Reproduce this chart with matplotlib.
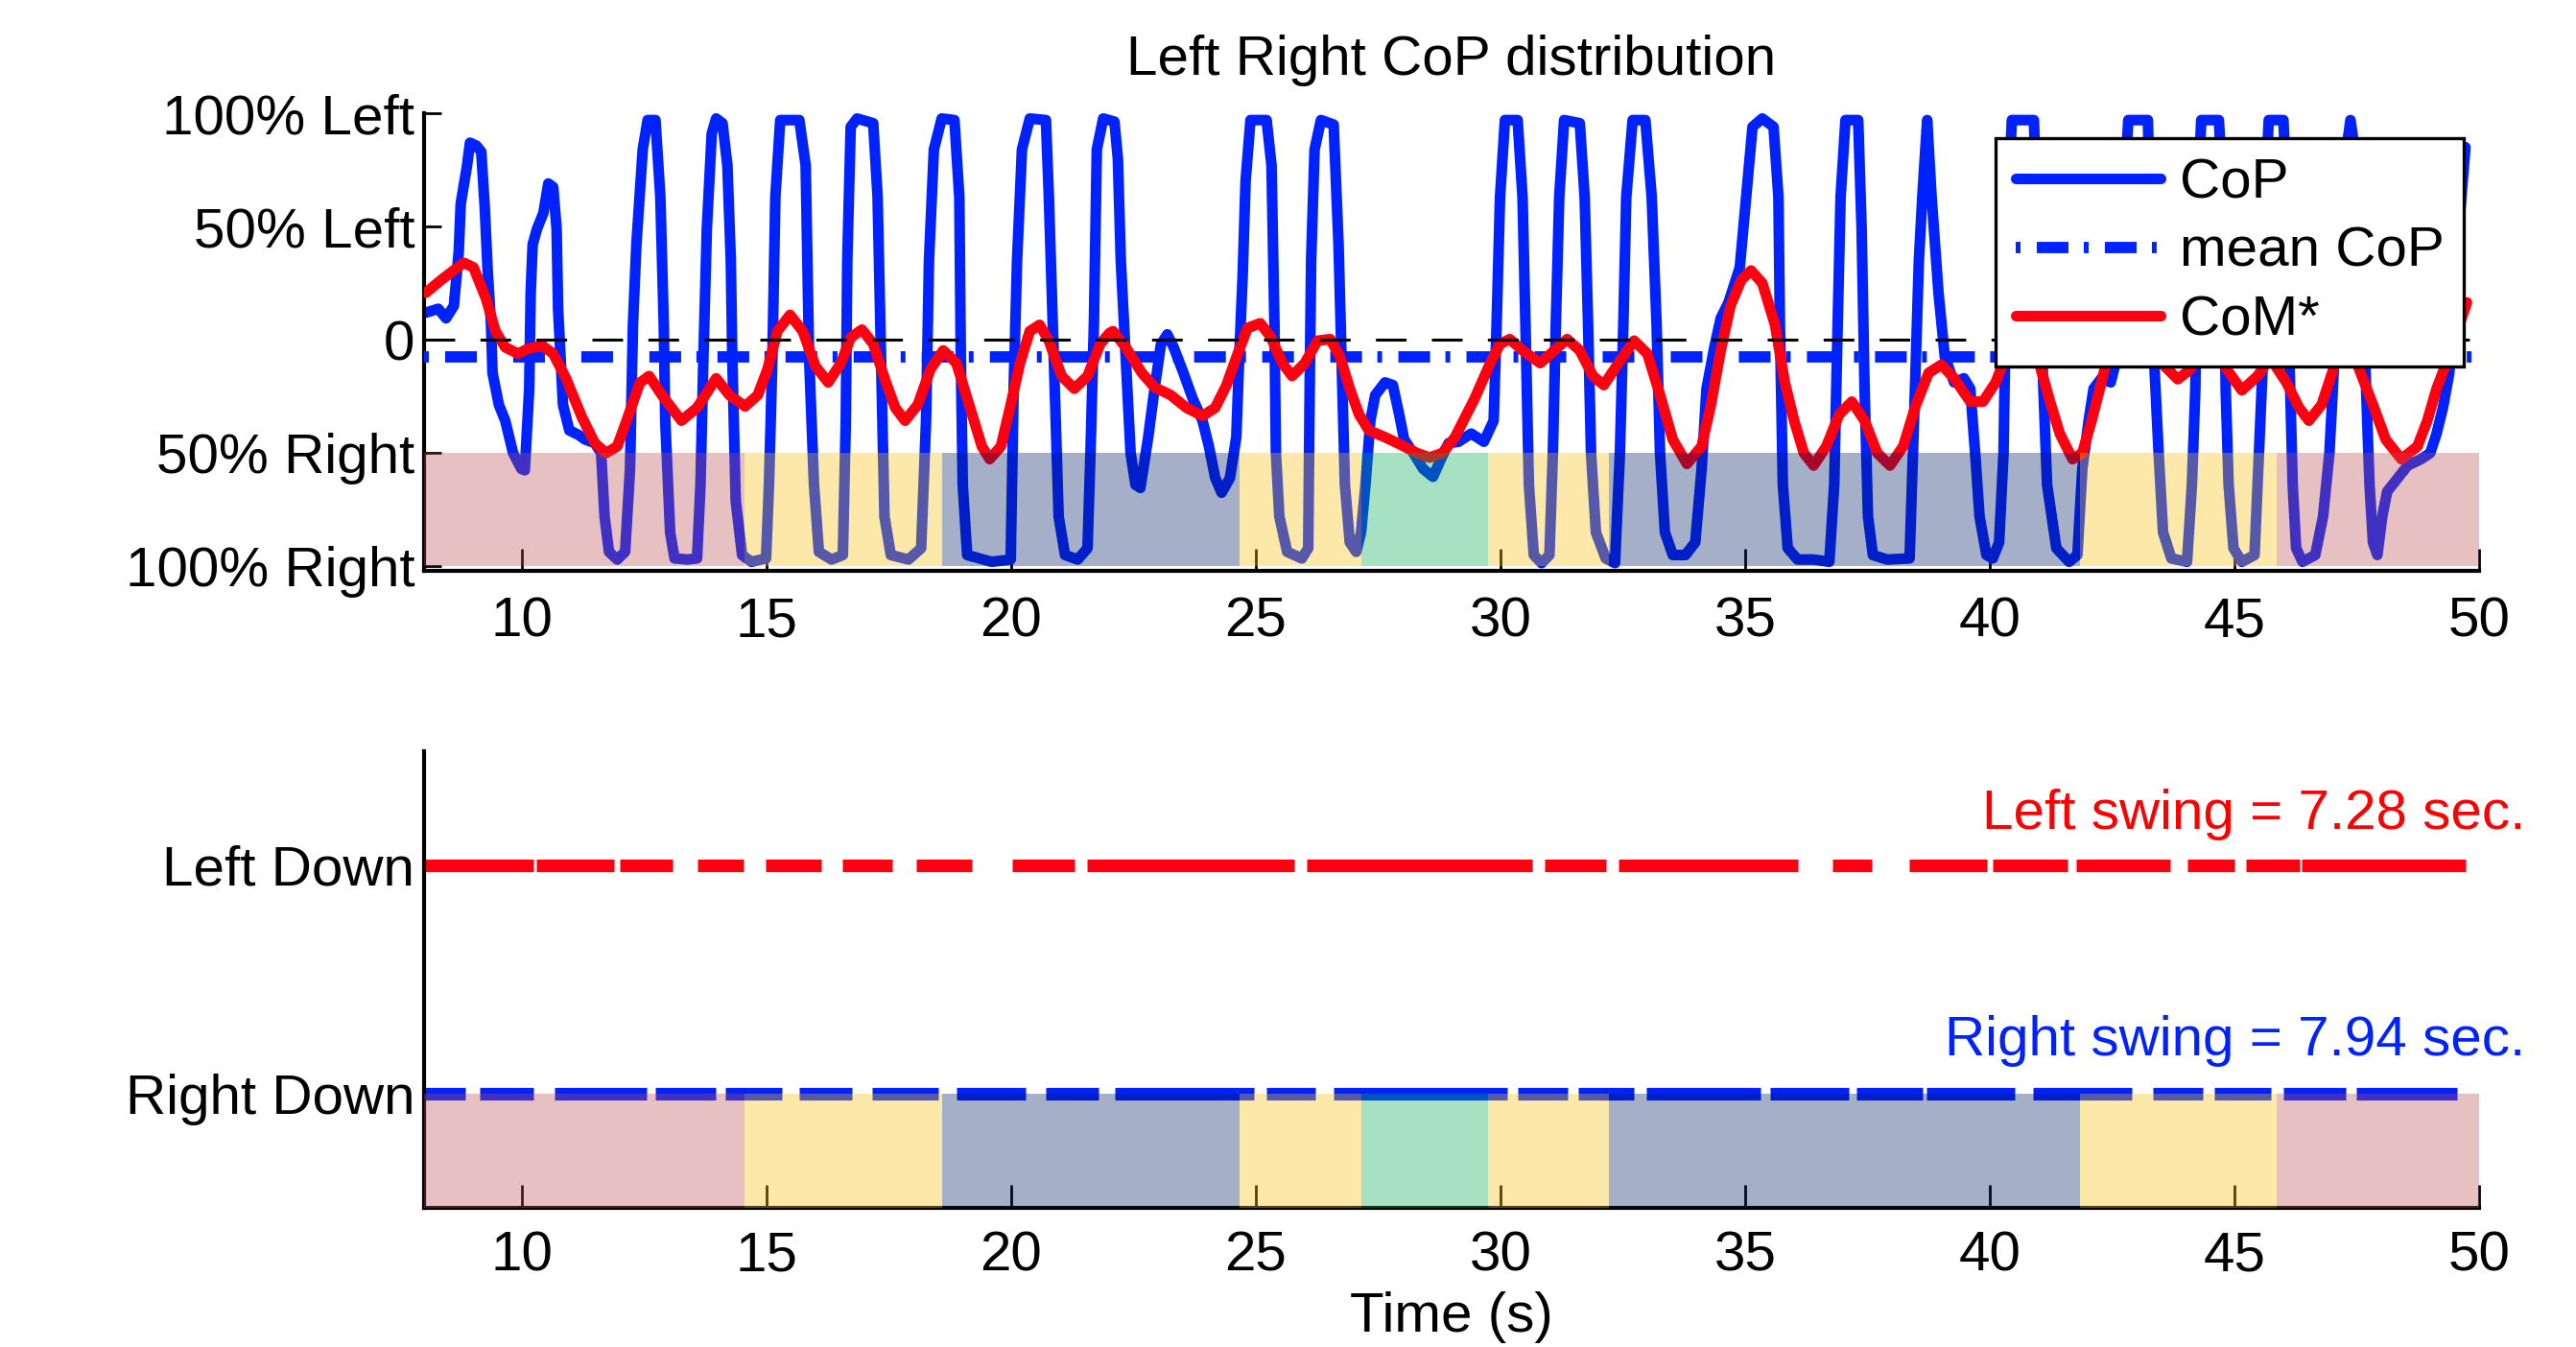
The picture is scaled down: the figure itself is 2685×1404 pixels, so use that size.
import matplotlib
matplotlib.use('Agg')
import matplotlib.pyplot as plt

plt.rcParams['font.family'] = ['Liberation Sans', 'DejaVu Sans']
plt.rcParams['lines.scale_dashes'] = False

# ---------------- data ----------------
cop_t = [8.04, 8.29, 8.45, 8.61, 8.71, 8.75, 8.88, 8.94, 9.07, 9.17, 9.24, 9.30, 9.37, 9.40,
         9.53, 9.66, 9.82, 9.99, 10.06, 10.15, 10.18, 10.22, 10.31, 10.44, 10.54, 10.64, 10.71,
         10.74, 10.84, 10.97, 11.16, 11.29, 11.49, 11.62, 11.69, 11.78, 11.95, 12.11, 12.21,
         12.27, 12.34, 12.47, 12.57, 12.73, 12.83, 12.90, 12.93, 13.03, 13.12, 13.39, 13.58,
         13.65, 13.71, 13.78, 13.88, 13.97, 14.10, 14.20, 14.27, 14.30, 14.37, 14.50, 14.69,
         14.99, 15.05, 15.12, 15.18, 15.28, 15.67, 15.80, 15.87, 15.97, 16.07, 16.33, 16.56,
         16.62, 16.65, 16.72, 16.85, 17.18, 17.27, 17.34, 17.41, 17.54, 17.90, 18.16, 18.26,
         18.32, 18.42, 18.58, 18.84, 18.94, 18.97, 19.01, 19.10, 19.60, 19.99, 20.05, 20.12,
         20.22, 20.38, 20.71, 20.77, 20.87, 20.97, 21.10, 21.36, 21.56, 21.62, 21.69, 21.75,
         21.88, 22.11, 22.18, 22.24, 22.34, 22.44, 22.54, 22.64, 22.80, 22.93, 23.06, 23.19,
         23.32, 23.52, 23.71, 23.91, 24.04, 24.17, 24.30, 24.47, 24.60, 24.66, 24.73, 24.79,
         24.89, 25.22, 25.32, 25.38, 25.41, 25.48, 25.64, 25.94, 26.07, 26.10, 26.13, 26.20,
         26.33, 26.59, 26.69, 26.75, 26.82, 26.92, 27.05, 27.15, 27.24, 27.34, 27.44, 27.64,
         27.80, 27.93, 28.03, 28.22, 28.42, 28.62, 28.78, 28.94, 29.14, 29.40, 29.66, 29.86,
         29.92, 29.99, 30.09, 30.35, 30.45, 30.51, 30.58, 30.68, 30.84, 31.00, 31.07, 31.13,
         31.20, 31.30, 31.62, 31.72, 31.79, 31.85, 31.95, 32.15, 32.34, 32.44, 32.51, 32.57,
         32.70, 32.96, 33.09, 33.19, 33.26, 33.36, 33.52, 33.78, 33.98, 34.11, 34.21, 34.37,
         34.50, 34.66, 34.89, 35.02, 35.15, 35.35, 35.58, 35.68, 35.71, 35.77, 35.87, 36.07,
         36.40, 36.72, 36.82, 36.89, 36.95, 37.05, 37.31, 37.38, 37.44, 37.51, 37.61, 37.90,
         38.36, 38.45, 38.55, 38.62, 38.72, 38.81, 38.95, 39.08, 39.27, 39.47, 39.60, 39.70,
         39.79, 39.93, 40.06, 40.19, 40.28, 40.32, 40.38, 40.45, 40.90, 41.07, 41.17, 41.36,
         41.62, 41.79, 41.89, 42.02, 42.12, 42.28, 42.47, 42.57, 42.74, 42.83, 43.23, 43.36,
         43.45, 43.54, 43.71, 44.03, 44.13, 44.20, 44.25, 44.32, 44.68, 44.78, 44.82, 44.88,
         44.98, 45.15, 45.41, 45.50, 45.57, 45.62, 45.70, 46.00, 46.08, 46.13, 46.19, 46.26,
         46.39, 46.65, 46.81, 46.94, 47.01, 47.20, 47.37, 47.55, 47.69, 47.76, 47.83, 47.92,
         48.02, 48.12, 48.28, 48.41, 48.54, 48.81, 49.00, 49.13, 49.26, 49.39, 49.55, 49.72]
cop_v = [12, 13.7, 9.5, 15, 39, 60, 77, 87, 85.7, 83, 59, 31, 6.6, -14.6,
         -28.7, -35.7, -50, -57, -57.6, -21.6, 20.8, 42, 49, 56, 69, 67.4, 49,
         13.7, -28.7, -40, -42, -44, -45.6, -50, -78, -93.6, -97, -93.6, -57,
         6.6, 42, 84, 97, 97, 63, 6.6, -35.7, -85, -96.5, -97, -96.5,
         -64, -7.5, 49, 91, 97.7, 95.6, 77, 35, -7.5, -71, -95, -98,
         -96.5, -64, -7.5, 63, 97, 97, 77, -7.5, -64, -93.6, -97, -95,
         -35.7, 35, 94, 97.7, 95.6, 63, -7.5, -78, -95, -97, -92, -35.7,
         35, 84, 97.7, 97, 63, -7.5, -64, -95, -98, -97, -21.6, 35,
         84, 97.7, 97, 63, -7.5, -78, -95, -97, -92, -50, 6.6, 84,
         97.7, 96.3, 80, 35, -7.5, -50, -64, -65.4, -43, -21.6, -2, 2.4,
         -3.3, -14.6, -26, -35.7, -47, -61, -67.5, -61, -43, -7.5, 28, 70,
         97, 97, 77, 6.6, -50, -78, -93.6, -96.5, -92, -21.6, 35, 84,
         97, 95, 42, -7.5, -64, -89.4, -93.6, -85, -64, -35.7, -24.4, -18.8,
         -20, -33, -44, -50, -57, -60.5, -52.7, -45.6, -45, -41.4, -45, -35.7,
         6.6, 63, 97, 97, 63, 6.6, -64, -95, -98.6, -95, -50, 6.6,
         63, 97, 95.6, 63, 6.6, -50, -85, -96.5, -98.6, -50, 6.6, 63,
         97, 97, 63, 6.6, -50, -85, -95, -95, -89.4, -57, -21.6, -3.3,
         9.5, 16.5, 32, 63, 94, 97.7, 94, 63, 6.6, -64, -92, -97,
         -97, -98, -64, 6.6, 63, 97, 97, 49, -21.6, -78, -95, -97,
         -96.5, -35.7, 35, 63, 97, 63, 21, -7.5, -18.8, -17, -21.6, -50,
         -78, -95, -96.5, -89.4, -50, 6.6, 63, 97, 97, -7.5, -64, -92,
         -98, -95, -57, -35.7, -21.6, -17, -18.8, -10.3, 63, 97, 97, -10,
         -50, -85, -96.5, -98, -64, -21.6, 60, 97, 97, 60, -21.6, -64,
         -92, -98, -95, -50, -14.6, 60, 97, 97, 60, -14.6, -64, -92,
         -98, -95, -78, -50, -21.6, 70, 97, 70, -21.6, -64, -89.4, -95,
         -78, -67, -62.6, -59, -55.5, -52.7, -50, -41.4, -30, -14.6, 40, 85]

com_t = [8.04, 8.35, 8.81, 9.01, 9.27, 9.46, 9.66, 9.92, 10.12, 10.41, 10.64, 10.90, 11.23,
         11.49, 11.72, 11.95, 12.14, 12.41, 12.60, 12.86, 13.26, 13.58, 13.97, 14.24, 14.56,
         14.82, 15.02, 15.22, 15.48, 15.74, 16.00, 16.26, 16.52, 16.72, 16.95, 17.18, 17.44,
         17.63, 17.83, 18.09, 18.35, 18.61, 18.88, 19.14, 19.40, 19.56, 19.79, 19.99, 20.18,
         20.38, 20.58, 20.77, 21.03, 21.29, 21.56, 21.82, 22.01, 22.08, 22.34, 22.67, 22.93,
         23.26, 23.58, 23.91, 24.17, 24.40, 24.63, 24.83, 25.09, 25.31, 25.54, 25.74, 26.00,
         26.26, 26.52, 26.72, 26.92, 27.11, 27.31, 27.64, 27.96, 28.29, 28.55, 28.81, 29.07,
         29.14, 29.47, 29.79, 29.99, 30.19, 30.45, 30.81, 31.10, 31.36, 31.62, 31.89, 32.11,
         32.41, 32.73, 33.00, 33.26, 33.52, 33.81, 34.11, 34.30, 34.50, 34.70, 34.92, 35.12,
         35.35, 35.61, 35.81, 36.00, 36.20, 36.40, 36.66, 36.92, 37.18, 37.44, 37.70, 37.96,
         38.23, 38.49, 38.75, 39.01, 39.27, 39.60, 39.86, 40.12, 40.32, 40.60, 40.85, 41.00,
         41.23, 41.43, 41.69, 41.89, 42.08, 42.28, 42.41, 42.65, 42.95, 43.25, 43.51, 43.84,
         44.10, 44.30, 44.55, 44.75, 45.15, 45.47, 45.73, 46.06, 46.32, 46.52, 46.78, 47.04,
         47.25, 47.50, 47.83, 48.09, 48.41, 48.74, 48.94, 49.13, 49.33, 49.75]
com_v = [20.8, 26.4, 34, 32, 18, 3.8, -3.3, -6.1, -4, -2.5, -6.1, -17, -34.3,
         -45.6, -50, -47, -35.7, -19, -16, -24.4, -35.7, -30, -17, -24.4, -29.4,
         -24.4, -13, 3.8, 11, 3.8, -11.7, -18.8, -10.3, 1, 4.5, -1.8, -18.8,
         -30, -35.7, -28.7, -13, -4.7, -10.3, -28.7, -47, -52.7, -47, -28.7, -10.3,
         3.8, 6.6, -0.4, -16, -21.6, -16, -1.8, 3, 3.8, -3.3, -14.6, -21,
         -24.4, -30, -33.6, -30, -20, -6.1, 5.2, 7.3, 1, -10.3, -16, -10.3,
         -0.4, 0.3, -7.5, -21.6, -33, -40, -43, -46.3, -50, -52, -50, -43,
         -40, -26, -10.3, -1.8, 0.3, -4.7, -10.3, -4.7, 0.3, -4.7, -16, -20,
         -10.3, -0.4, -6.1, -24.4, -44, -54.8, -47, -28.7, -4.7, 15, 26.4, 30.6,
         25, 6.6, -18.8, -35.7, -50, -55.5, -47, -33, -27.3, -35.7, -50, -55.5,
         -47, -28.7, -14.6, -11, -17, -27.3, -27.3, -18.8, -7.5, 3, -2, -9.6,
         -27.3, -41.4, -52.7, -50, -35.7, -18.8, -7.5, 3, 0, -5, -10.3, -17.4,
         -13, -5, -6, -10.3, -22.3, -16, -8, -18.8, -30, -35.7, -28.7, -11.7,
         -3, -10.3, -28.7, -44, -52.7, -47, -35.7, -21.6, -10.3, 16.5]

mean_cop = -7.5

phase_edges = [8.0, 14.55, 18.58, 24.67, 27.16, 29.75, 32.21, 41.84, 45.87, 50.0]
phase_colors = ['#BC4E51', '#F9BE08', '#001C63', '#F9BE08', '#00AD52',
                '#F9BE08', '#001C63', '#F9BE08', '#BC4E51']

left_down = [(8.0, 10.24), (10.29, 11.88), (12.0, 13.08), (13.59, 14.53), (14.98, 16.12),
             (16.55, 17.57), (18.06, 19.2), (20.02, 21.29), (21.55, 25.78), (26.04, 30.65),
             (30.9, 32.16), (32.41, 36.08), (36.78, 37.59), (38.35, 39.94), (40.06, 41.59),
             (41.76, 43.69), (44.04, 45.0), (45.24, 46.33), (46.37, 49.73)]
right_down = [(8.0, 8.84), (9.14, 10.24), (10.67, 12.55), (12.73, 13.96), (14.16, 15.31),
              (15.67, 16.75), (17.16, 18.51), (18.88, 20.29), (20.71, 21.78), (22.12, 24.96),
              (25.22, 26.22), (26.59, 30.14), (30.35, 31.37), (31.59, 32.73), (32.98, 35.31),
              (35.51, 37.12), (37.27, 38.63), (38.71, 40.51), (40.88, 42.9), (43.33, 44.35),
              (44.59, 45.75), (46.0, 47.27), (47.49, 49.55)]

left_swing_s = 7.28
right_swing_s = 7.94

top_yticks = [-100, -50, 0, 50, 100]
top_yticklabels = ['100% Right', '50% Right', '0', '50% Left', '100% Left']
bottom_yticks = [1, 2]
bottom_yticklabels = ['Right Down', 'Left Down']
xticks = [10, 15, 20, 25, 30, 35, 40, 45, 50]

# ---------------- style ----------------
BLUE = '#0022FF'
RED = '#FF0010'
FS = 42
PATCH_ALPHA = 0.35

fig = plt.figure(figsize=(26.85, 14.04), dpi=100)
ax1 = fig.add_axes([0.1646, 0.5762, 0.7978, 0.3397])
ax2 = fig.add_axes([0.1646, 0.1033, 0.7978, 0.3390])

# ---- top panel ----
cop_line, = ax1.plot(cop_t, cop_v, color=BLUE, lw=8, zorder=2,
                     solid_joinstyle='round', solid_capstyle='round')
mean_line, = ax1.plot([8, 50], [mean_cop, mean_cop], color=BLUE, lw=8.5, zorder=3,
                      dashes=(3.6, 12.2, 23.8, 11.5), dash_capstyle='butt')
com_line, = ax1.plot(com_t, com_v, color=RED, lw=8, zorder=4,
                     solid_joinstyle='round', solid_capstyle='round')
ax1.plot([8, 50], [0, 0], color='black', lw=2.2, zorder=5, dashes=(23, 19))

for i, c in enumerate(phase_colors):
    ax1.fill_between([phase_edges[i], phase_edges[i + 1]], -100, -50, color=c,
                     alpha=PATCH_ALPHA, lw=0, zorder=6)

ax1.set_xlim(8, 50)
ax1.set_ylim(-102, 100)
ax1.set_yticks(top_yticks)
ax1.set_yticklabels(top_yticklabels)
ax1.set_xticks(xticks)
ax1.tick_params(axis='x', direction='in', length=16.5, width=2, pad=19, labelsize=FS)
ax1.tick_params(axis='y', direction='in', length=13, width=2, pad=7, labelsize=FS)
for s in ['top', 'right']:
    ax1.spines[s].set_visible(False)
for s in ['left', 'bottom']:
    ax1.spines[s].set_linewidth(3)
ax1.set_title('Left Right CoP distribution', fontsize=FS, pad=29)

leg = ax1.legend([cop_line, mean_line, com_line], ['CoP', 'mean CoP', 'CoM*'],
                 loc='upper right', bbox_to_anchor=(0.9925, 0.9455), borderaxespad=0,
                 fontsize=FS, handlelength=2.6, handletextpad=0.33, borderpad=0.35,
                 labelspacing=0.3, fancybox=False, framealpha=1, edgecolor='black')
leg.get_frame().set_linewidth(2.4)
leg.set_zorder(10)

# ---- bottom panel ----
for a, b in left_down:
    ax2.plot([a, b], [2, 2], color=RED, lw=9.5, solid_capstyle='butt', zorder=2)
for a, b in right_down:
    ax2.plot([a, b], [1, 1], color=BLUE, lw=9.5, solid_capstyle='butt', zorder=2)
for i, c in enumerate(phase_colors):
    ax2.fill_between([phase_edges[i], phase_edges[i + 1]], 0.5, 1.0, color=c,
                     alpha=PATCH_ALPHA, lw=0, zorder=6)

ax2.text(50.94, 2.16, f'Left swing = {left_swing_s:.2f} sec.', color='#FF0000',
         ha='right', va='baseline', fontsize=FS, clip_on=False)
ax2.text(50.94, 1.168, f'Right swing = {right_swing_s:.2f} sec.', color=BLUE,
         ha='right', va='baseline', fontsize=FS, clip_on=False)

ax2.set_xlim(8, 50)
ax2.set_ylim(0.5, 2.5)
ax2.set_yticks(bottom_yticks)
ax2.set_yticklabels(bottom_yticklabels)
ax2.set_xticks(xticks)
ax2.tick_params(axis='x', direction='in', length=17, width=2, pad=17, labelsize=FS)
ax2.tick_params(axis='y', direction='in', length=13, width=2, pad=7, labelsize=FS)
for s in ['top', 'right']:
    ax2.spines[s].set_visible(False)
for s in ['left', 'bottom']:
    ax2.spines[s].set_linewidth(3)
ax2.set_xlabel('Time (s)', fontsize=FS, labelpad=7)

fig.savefig('out.png', dpi=100)
